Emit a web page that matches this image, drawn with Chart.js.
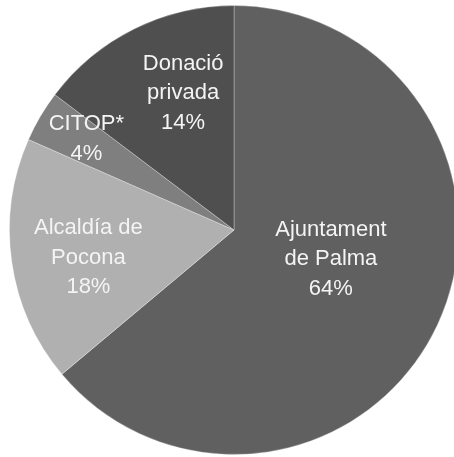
<!DOCTYPE html>
<html lang="ca">
<head>
    <meta charset="UTF-8">
    <title>Finançament</title>
    <script src="https://cdn.jsdelivr.net/npm/chart.js"></script>
    <style>
        html, body { margin: 0; padding: 0; background: #fff; overflow: hidden; }
        #wrap { position: absolute; left: 0; top: 0; }
    </style>
</head>
<body>
    <div id="wrap"><canvas id="pieChart" width="468" height="460"></canvas></div>

    <script>
        // Dades del gràfic
        const categories = ['Ajuntament de Palma', 'Alcaldía de Pocona', 'CITOP*', 'Donació privada'];
        const values = [63.9, 17.7, 3.7, 14.7];
        const pctLabels = ['64%', '18%', '4%', '14%'];
        const labelLines = [
            ['Ajuntament', 'de Palma'],
            ['Alcaldía de', 'Pocona'],
            ['CITOP*'],
            ['Donació', 'privada']
        ];
        const sliceColors = ['#606060', '#b0b0b0', '#7f7f7f', '#4f4f4f'];

        // posició de les etiquetes: angle (graus, des de les 3 en punt) i fracció del radi
        const labelAngle = [16.9, 169.3, 211.6, 249.6];
        const labelRadius = [0.451, 0.660, 0.772, 0.650];

        const sliceLabels = {
            id: 'sliceLabels',
            afterDatasetsDraw(chart) {
                const ctx = chart.ctx;
                const arcs = chart.getDatasetMeta(0).data;
                ctx.save();
                ctx.font = '22px "Liberation Sans", Arial, sans-serif';
                ctx.fillStyle = '#f4f4f4';
                ctx.textAlign = 'center';
                ctx.textBaseline = 'middle';
                const lh = 29.5;
                arcs.forEach((arc, i) => {
                    const a = labelAngle[i] * Math.PI / 180;
                    const r = arc.outerRadius * labelRadius[i];
                    const x = arc.x + Math.cos(a) * r;
                    const y = arc.y + Math.sin(a) * r;
                    const lines = labelLines[i].concat([pctLabels[i]]);
                    const top = y - (lines.length - 1) * lh / 2;
                    lines.forEach((t, j) => ctx.fillText(t, x, top + j * lh));
                });
                ctx.restore();
            }
        };

        new Chart(document.getElementById('pieChart'), {
            type: 'pie',
            data: {
                labels: categories,
                datasets: [{
                    data: values,
                    backgroundColor: sliceColors,
                    borderColor: 'rgba(255,255,255,0.3)',
                    borderWidth: 1,
                    hoverOffset: 0,
                    offset: 0
                }]
            },
            options: {
                responsive: false,
                animation: false,
                layout: { padding: { top: 5, bottom: 5, left: 9, right: 9 } },
                plugins: {
                    legend: { display: false },
                    tooltip: { enabled: false }
                }
            },
            plugins: [sliceLabels]
        });
    </script>
</body>
</html>
